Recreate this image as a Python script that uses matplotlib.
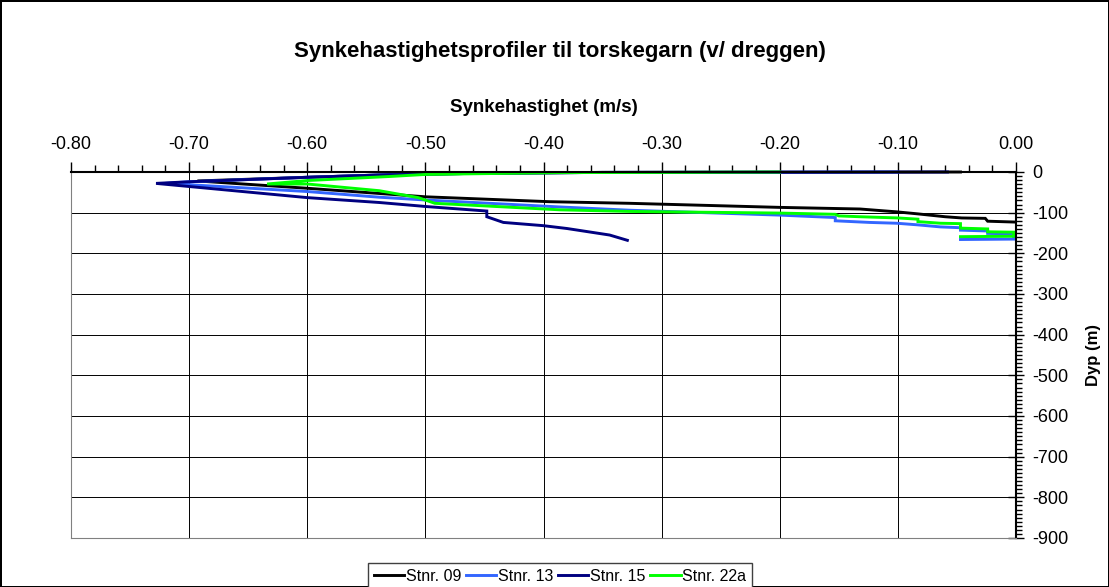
import numpy as np
import matplotlib
matplotlib.use("Agg")
import matplotlib.pyplot as plt
from matplotlib.ticker import MultipleLocator, FormatStrFormatter

plt.rcParams['font.family'] = ['Liberation Sans', 'DejaVu Sans']
plt.rcParams['axes.unicode_minus'] = False

# --- data (velocity m/s, depth m) ---
v09 = [-0.047, -0.20, -0.35, -0.45, -0.53, -0.60, -0.693, -0.60, -0.50, -0.395, -0.327,
       -0.20, -0.132, -0.101, -0.083, -0.060, -0.046, -0.026, -0.024, -0.002]
d09 = [0, -0.5, -1, -3, -6.5, -13, -22, -40, -61, -73, -77,
       -87, -91, -98, -103, -110, -113, -114, -121, -123]

v13 = [-0.10, -0.20, -0.35, -0.45, -0.53, -0.60, -0.70, -0.72, -0.60, -0.539, -0.499,
       -0.386, -0.327, -0.20, -0.153, -0.153, -0.124, -0.101, -0.083, -0.064, -0.047,
       -0.047, -0.024, -0.024, -0.002, -0.002, -0.047]
d13 = [0, -0.5, -1, -3, -6.6, -13, -24, -28, -48, -62, -69,
       -86, -94, -106, -112, -120, -124, -126, -130, -135, -137,
       -143, -145, -151, -152, -165, -166]

v15 = [-0.058, -0.20, -0.35, -0.45, -0.53, -0.60, -0.70, -0.728, -0.60, -0.539, -0.499,
       -0.448, -0.448, -0.434, -0.400, -0.380, -0.344, -0.329]
d15 = [0, -0.5, -1, -3, -6.6, -13, -24, -28, -63, -75, -85,
       -96, -110, -124, -132, -139, -155, -168]

v22a = [-0.20, -0.30, -0.386, -0.45, -0.50, -0.53, -0.60, -0.634, -0.60, -0.539, -0.506,
        -0.492, -0.386, -0.327, -0.20, -0.153, -0.150, -0.132, -0.100, -0.083, -0.083,
        -0.064, -0.047, -0.047, -0.024, -0.024, -0.002, -0.002, -0.047]
d22a = [0, -1, -1.5, -4, -6, -11, -21, -29.5, -29.5, -46, -63,
        -77, -93, -97, -101, -104, -108, -110, -113, -116, -122,
        -126, -127, -138, -140, -147, -148, -158, -159]

navn = ["Stnr. 09", "Stnr. 13", "Stnr. 15", "Stnr. 22a"]
farger = ["black", "#3366FF", "#000080", "#00FF00"]

#-------------------------------------------------------------
fig = plt.figure(figsize=(11.09, 5.87), dpi=100, edgecolor='black', linewidth=1.0)
ax = fig.add_axes([71/1109, 1-538/587, (1016-71)/1109, (538-172)/587])

for v, d, lab, c in zip([v09, v13, v15, v22a], [d09, d13, d15, d22a], navn, farger):
    ax.plot(v, d, color=c, lw=2.1, label=lab, clip_on=False, solid_joinstyle='miter')

ax.set_xlim(-0.80, 0.0)
ax.set_ylim(-900, 0)

ax.xaxis.tick_top()
ax.xaxis.set_label_position('top')
ax.yaxis.tick_right()
ax.yaxis.set_label_position('right')

ax.xaxis.set_major_locator(MultipleLocator(0.1))
ax.xaxis.set_minor_locator(MultipleLocator(0.02))
ax.xaxis.set_major_formatter(FormatStrFormatter('%.2f'))
ax.yaxis.set_major_locator(MultipleLocator(100))
ax.yaxis.set_minor_locator(MultipleLocator(10))

ax.tick_params(axis='x', which='major', direction='out', length=7, width=1, labelsize=13, pad=7)
ax.tick_params(axis='x', which='minor', direction='out', length=5, width=1)
ax.tick_params(axis='y', which='major', direction='inout', length=12, width=1, labelsize=13, pad=6)
ax.tick_params(axis='y', which='minor', direction='out', length=4, width=1)

ax.grid(True, which='major', color='black', lw=0.7)
for s in ['left', 'bottom']:
    ax.spines[s].set_color('#808080')
    ax.spines[s].set_linewidth(0.8)
ax.spines['top'].set_linewidth(1.5)
ax.spines['right'].set_linewidth(1.5)

ax.set_xlabel("Synkehastighet (m/s)", fontsize=13.5, fontweight='bold', labelpad=17)
ax.set_ylabel("Dyp (m)", fontsize=12, fontweight='bold', labelpad=12)
fig.suptitle("Synkehastighetsprofiler til torskegarn (v/ dreggen)", fontsize=16,
             fontweight='bold', x=0.505, y=0.93)

fig.legend(loc='lower center', bbox_to_anchor=(0.505, -0.004), ncol=4, fontsize=11.5,
           frameon=True, fancybox=False, edgecolor='#404040', framealpha=1,
           handlelength=1.9, handletextpad=0.1, columnspacing=0.3, borderpad=0.35,
           borderaxespad=0.0)

plt.savefig("out.png", dpi=100)
